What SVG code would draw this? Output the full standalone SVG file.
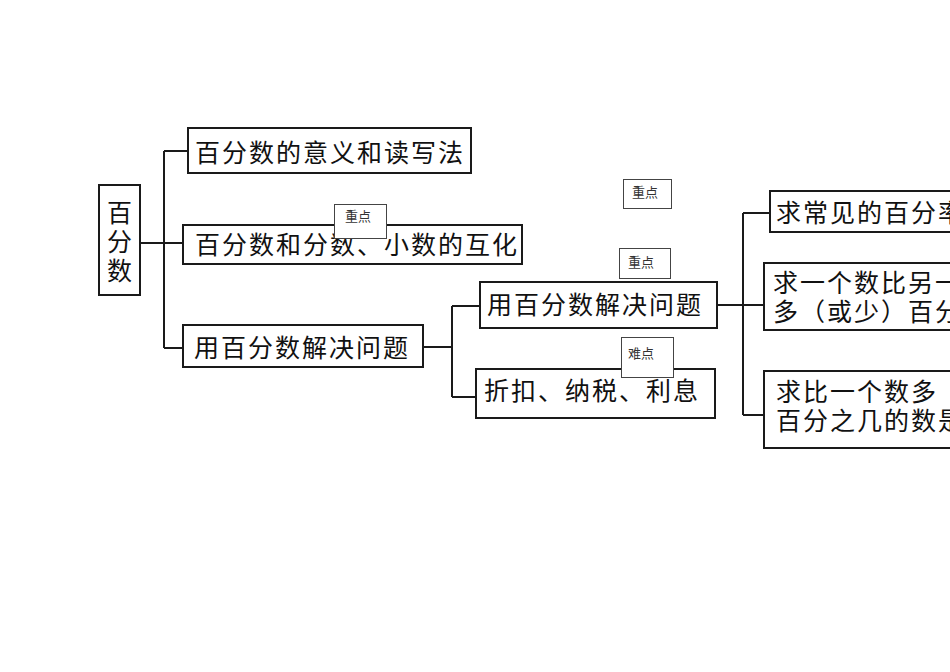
<svg xmlns="http://www.w3.org/2000/svg" width="950" height="672" viewBox="0 0 950 672">
<style>
.box{fill:#fff;stroke:#1a1a1a;stroke-width:2}
.t{font-family:"Noto Sans CJK SC","Noto Sans CJK JP",sans-serif;font-size:25px;fill:#111;letter-spacing:2px}
.badge{fill:#fff;stroke:#444;stroke-width:1}
.bt{font-family:"Noto Sans CJK SC","Noto Sans CJK JP",sans-serif;font-size:13px;fill:#333}
.ln{fill:none;stroke:#1a1a1a;stroke-width:2}
</style>
<rect width="950" height="672" fill="#fff"/>
<g id="connectors">
<path class="ln" d="M140 243H164M164 151V348M164 151H188M164 243H183M164 348H183"/>
<path class="ln" d="M423 347H452M452 306V397M452 306H480M452 397H476"/>
<path class="ln" d="M717 305H743M743 213V415M743 213H770M743 305H764M743 415H764"/>
</g>
<g id="root">
<rect class="box" x="99" y="185" width="41" height="110"/>
<text class="t" x="119.5" y="222" text-anchor="middle" style="letter-spacing:0">百</text>
<text class="t" x="119.5" y="251" text-anchor="middle" style="letter-spacing:0">分</text>
<text class="t" x="119.5" y="280" text-anchor="middle" style="letter-spacing:0">数</text>
</g>
<g id="n1">
<rect class="box" x="188" y="128" width="283" height="45"/>
<text class="t" x="195" y="162">百分数的意义和读写法</text>
</g>
<g id="n2">
<rect class="box" x="183" y="225" width="339" height="39"/>
<text class="t" x="195" y="253.5">百分数和分数、小数的互化</text>
</g>
<g id="n3">
<rect class="box" x="183" y="325" width="240" height="42"/>
<text class="t" x="194" y="357">用百分数解决问题</text>
</g>
<g id="n4">
<rect class="box" x="480" y="282" width="237" height="46"/>
<text class="t" x="487" y="314">用百分数解决问题</text>
</g>
<g id="n5">
<rect class="box" x="476" y="369" width="239" height="49"/>
<text class="t" x="484" y="399.5">折扣、纳税、利息</text>
</g>
<g id="n6">
<rect class="box" x="770" y="191" width="240" height="41"/>
<text class="t" x="776" y="221.5">求常见的百分率</text>
</g>
<g id="n7">
<rect class="box" x="764" y="263" width="240" height="67"/>
<text class="t" x="773" y="291.5">求一个数比另一</text>
<text class="t" x="773" y="320.5">多（或少）百分</text>
</g>
<g id="n8">
<rect class="box" x="764" y="371" width="240" height="77"/>
<text class="t" x="776" y="400.5">求比一个数多（</text>
<text class="t" x="776" y="429.5">百分之几的数是</text>
</g>
<g id="b1">
<rect class="badge" x="334.5" y="204.5" width="52" height="34"/>
<text class="bt" x="345" y="221">重点</text>
</g>
<g id="b2">
<rect class="badge" x="623.5" y="179.5" width="48" height="29"/>
<text class="bt" x="632" y="197">重点</text>
</g>
<g id="b3">
<rect class="badge" x="619.5" y="248.5" width="51" height="30"/>
<text class="bt" x="628" y="267">重点</text>
</g>
<g id="b4">
<rect class="badge" x="621.5" y="337.5" width="52" height="40"/>
<text class="bt" x="628" y="358">难点</text>
</g>
</svg>
